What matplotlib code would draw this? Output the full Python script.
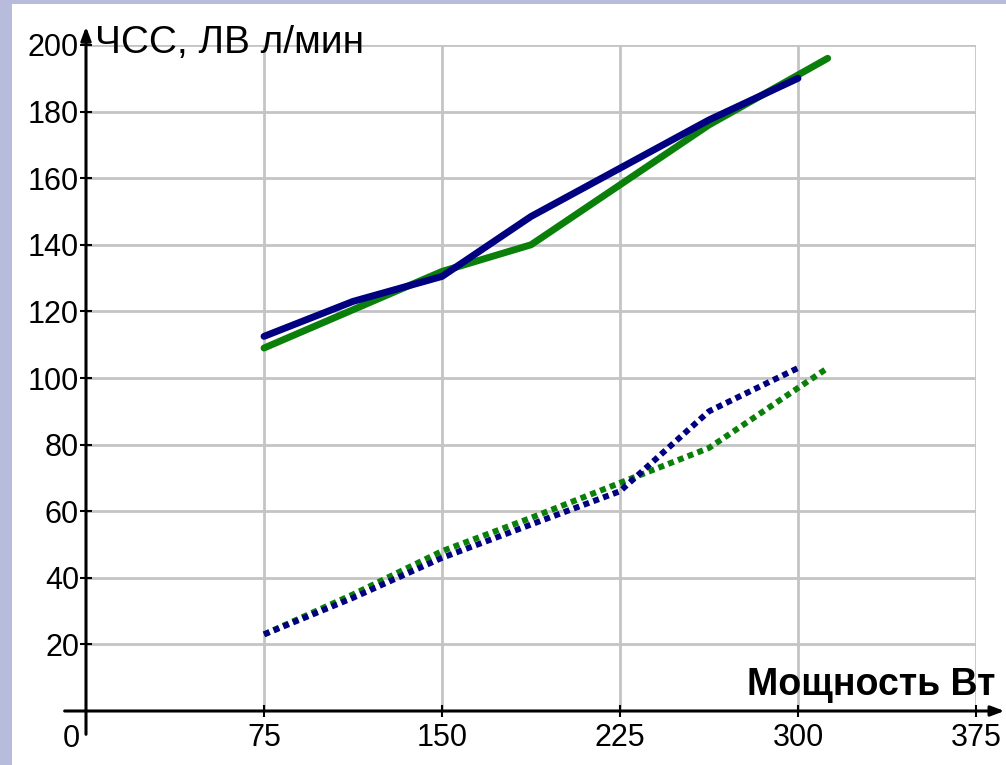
import matplotlib.pyplot as plt

# мощность, Вт
x_blue = [75, 112.5, 150, 187.5, 225, 262.5, 300]
x_green = [75, 112.5, 150, 187.5, 225, 262.5, 312.5]

# ЧСС (сплошные линии)
hr_blue = [112.5, 123, 130.5, 148.5, 163, 177.5, 190]
hr_green = [109, 120.5, 132, 140, 158, 176, 196]

# ЛВ (пунктир)
lv_blue = [23, 34, 46, 56, 66, 90, 103]
lv_green = [23, 35, 48, 58, 68.5, 79, 103]

xticks = [75, 150, 225, 300, 375]
yticks = [20, 40, 60, 80, 100, 120, 140, 160, 180, 200]

navy = '#000080'
green = '#0a800a'

plt.rcParams['font.family'] = ['Liberation Sans', 'DejaVu Sans']

W, H = 1006, 765
fig = plt.figure(figsize=(W / 100, H / 100), dpi=100)
fig.patch.set_facecolor('#b7bbdc')
# белая панель
fig.add_artist(plt.Rectangle((12 / W, 0), 1, 1 - 4 / H, transform=fig.transFigure,
                             facecolor='white', edgecolor='none', zorder=0))

ax = fig.add_axes([86 / W, (H - 711) / H, 890 / W, 666 / H])
ax.set_facecolor('none')
ax.set_xlim(0, 375)
ax.set_ylim(0, 200)
for s in ax.spines.values():
    s.set_visible(False)

ax.set_xticks(xticks)
ax.set_yticks(yticks)
ax.grid(True, color='#c4c4c4', linewidth=2)
ax.tick_params(direction='inout', length=8, width=1.5, labelsize=22, pad=1)
ax.tick_params(axis='x', pad=5)

# линии
ax.plot(x_blue, hr_blue, color=navy, lw=5, solid_capstyle='round', zorder=3)
ax.plot(x_green, hr_green, color=green, lw=5, solid_capstyle='round', zorder=2)
ax.plot(x_green, lv_green, color=green, lw=4.3, linestyle=(0, (1, 0.75)),
        dash_capstyle='butt', zorder=2)
ax.plot(x_blue, lv_blue, color=navy, lw=4.3, linestyle=(0, (1, 0.75)),
        dash_capstyle='butt', zorder=3)

# оси со стрелками
arrow = dict(arrowstyle='-|>,head_length=0.8,head_width=0.3', color='black', lw=2.2,
             shrinkA=0, shrinkB=0)
ax.annotate('', xy=(387, 0), xytext=(-9, 0), arrowprops=arrow,
            annotation_clip=False, zorder=5)
ax.annotate('', xy=(0, 205.5), xytext=(0, -7), arrowprops=arrow,
            annotation_clip=False, zorder=5)

ax.text(-2.5, -4, '0', fontsize=22, ha='right', va='top')
ax.text(3.8, 197.6, 'ЧСС, ЛВ л/мин', fontsize=28, ha='left', va='baseline')
ax.text(383, 4.8, 'Мощность Вт', fontsize=27, fontweight='bold',
        ha='right', va='baseline')

fig.savefig('out.png', dpi=100, facecolor=fig.get_facecolor())
